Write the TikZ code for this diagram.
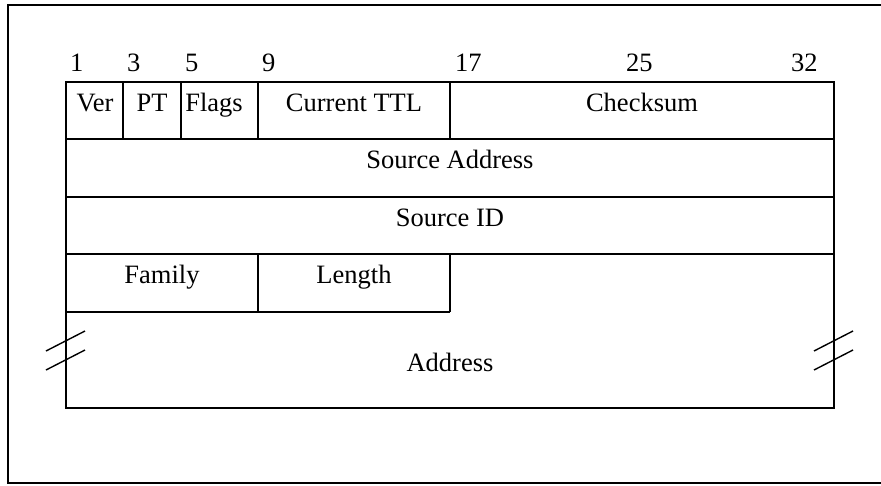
\documentclass[tikz,border=0pt]{standalone}
\usepackage{fontspec}
\setmainfont{Liberation Serif}
\begin{document}
\begin{tikzpicture}[x=1pt,y=-1pt,
  tbl/.style={line width=1.6pt},
  frm/.style={line width=1.4pt},
  brk/.style={line width=1.4pt},
  lbl/.style={anchor=base,inner sep=0pt,font=\fontsize{26.5}{30}\selectfont},
  num/.style={anchor=base west,inner sep=0pt,font=\fontsize{26.5}{30}\selectfont}]
\useasboundingbox (0,0) rectangle (881,485);
% outer frame
\draw[frm] (882,5) -- (8,5) -- (8,483) -- (882,483);
% table outline
\draw[tbl] (66,82) rectangle (834,408);
\draw[tbl] (66,139) -- (834,139);
\draw[tbl] (66,197) -- (834,197);
\draw[tbl] (66,254) -- (834,254);
\draw[tbl] (66,312) -- (450,312);
\foreach \x in {123,181,258,450} \draw[tbl] (\x,82) -- (\x,139);
\foreach \x in {258,450} \draw[tbl] (\x,254) -- (\x,312);
% break marks
\draw[brk] (46,351) -- (85,331);
\draw[brk] (46,370) -- (85,350);
\draw[brk] (814,351) -- (853,331);
\draw[brk] (814,370) -- (853,350);
% bit numbers
\node[num] (n1) at (70,71) {1};
\node[num] (n3) at (127,71) {3};
\node[num] (n5) at (185,71) {5};
\node[num] (n9) at (262,71) {9};
\node[num] (n17) at (455,71) {17};
\node[num] (n25) at (626,71) {25};
\node[num] (n32) at (791,71) {32};
% field labels
\node[lbl] (ver) at (95,111) {Ver};
\node[lbl] (pt) at (152,111) {PT};
\node[lbl] (flags) at (214,111) {Flags};
\node[lbl] (ttl) at (354,111) {Current TTL};
\node[lbl] (cks) at (642,111) {Checksum};
\node[lbl] (sa) at (450,168) {Source Address};
\node[lbl] (sid) at (450,226) {Source ID};
\node[lbl] (fam) at (162,283) {Family};
\node[lbl] (len) at (354,283) {Length};
\node[lbl] (addr) at (450,371) {Address};
\end{tikzpicture}
\end{document}
